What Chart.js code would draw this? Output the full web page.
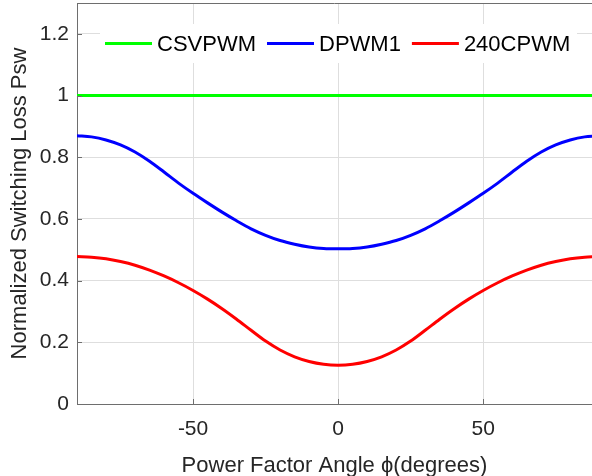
<!DOCTYPE html>
<html>
<head>
<meta charset="utf-8">
<script src="https://cdn.jsdelivr.net/npm/chart.js@4.4.1/dist/chart.umd.min.js"></script>
<style>
  html, body { margin: 0; padding: 0; background: #fff; overflow: hidden; }
  #chart { display: block; }
</style>
</head>
<body>
<canvas id="chart" width="592" height="476"></canvas>
<script>
// power factor angle (degrees)
const angles = [-90, -85, -80, -75, -70, -65, -60, -55, -50, -45, -40, -35, -30, -25, -20, -15, -10, -5,
    0, 5, 10, 15, 20, 25, 30, 35, 40, 45, 50, 55, 60, 65, 70, 75, 80, 85, 90];

const csvpwm = [1, 1, 1, 1, 1, 1, 1, 1, 1, 1, 1, 1, 1, 1, 1, 1, 1, 1,
    1, 1, 1, 1, 1, 1, 1, 1, 1, 1, 1, 1, 1, 1, 1, 1, 1, 1, 1];

const dpwm1 = [0.870, 0.866, 0.856, 0.840, 0.817, 0.787, 0.752, 0.716, 0.683, 0.652, 0.622, 0.594, 0.568,
    0.547, 0.530, 0.518, 0.509, 0.504, 0.503, 0.504, 0.509, 0.518, 0.530, 0.547, 0.568, 0.594, 0.622,
    0.652, 0.683, 0.716, 0.752, 0.787, 0.817, 0.840, 0.856, 0.866, 0.870];

const cpwm240 = [0.478, 0.476, 0.471, 0.462, 0.450, 0.434, 0.415, 0.393, 0.368, 0.340, 0.309, 0.275, 0.239,
    0.204, 0.175, 0.153, 0.138, 0.129, 0.126, 0.129, 0.138, 0.153, 0.175, 0.204, 0.239, 0.275, 0.309,
    0.340, 0.368, 0.393, 0.415, 0.434, 0.450, 0.462, 0.471, 0.476, 0.478];

const seriesLabels = ['CSVPWM', 'DPWM1', '240CPWM'];
const xTicks = [-50, 0, 50];
const yTicks = [0, 0.2, 0.4, 0.6, 0.8, 1, 1.2];

const textColor = '#262626';
const axisColor = '#6e6e6e';
const fontFamily = '"Liberation Sans", Arial, "DejaVu Sans", sans-serif';

function points(values) {
    return angles.map((a, i) => ({x: a, y: values[i]}));
}

// legend drawn inside the plot area, MATLAB style
const insideLegend = {
    id: 'insideLegend',
    afterDatasetsDraw(chart) {
        const ctx = chart.ctx;
        const y = 43.5;
        ctx.save();
        ctx.fillStyle = '#fff';
        ctx.fillRect(100, 24, 477, 39);
        ctx.font = '22px ' + fontFamily;
        ctx.textBaseline = 'middle';
        let x = 105;
        chart.data.datasets.forEach(ds => {
            ctx.strokeStyle = ds.borderColor;
            ctx.lineWidth = 3;
            ctx.beginPath();
            ctx.moveTo(x, y);
            ctx.lineTo(x + 47, y);
            ctx.stroke();
            ctx.fillStyle = '#000';
            ctx.fillText(ds.label, x + 52, y + 1);
            x += 52 + ctx.measureText(ds.label).width + 11;
        });
        ctx.restore();
    },
    afterDraw(chart) {
        const {ctx, chartArea} = chart;
        const xs = chart.scales.x, ys = chart.scales.y;
        ctx.save();
        ctx.strokeStyle = axisColor;
        ctx.lineWidth = 1;
        ctx.beginPath();
        ctx.moveTo(chartArea.left, chartArea.top + 0.5);
        ctx.lineTo(chartArea.right, chartArea.top + 0.5);
        // inward tick marks
        yTicks.forEach(v => {
            const py = Math.round(ys.getPixelForValue(v)) + 0.5;
            ctx.moveTo(chartArea.left, py);
            ctx.lineTo(chartArea.left + 5, py);
        });
        xTicks.forEach(v => {
            const px = Math.round(xs.getPixelForValue(v)) + 0.5;
            ctx.moveTo(px, chartArea.bottom);
            ctx.lineTo(px, chartArea.bottom - 5);
        });
        ctx.stroke();
        ctx.restore();
    }
};

window.onload = function () {
    const ctx = document.getElementById('chart').getContext('2d');

    new Chart(ctx, {
        type: 'line',
        data: {
            datasets: [{
                label: seriesLabels[0], data: points(csvpwm),
                borderColor: '#00ff00', borderWidth: 3, pointRadius: 0
            }, {
                label: seriesLabels[1], data: points(dpwm1),
                borderColor: '#0000ff', borderWidth: 3, pointRadius: 0, cubicInterpolationMode: 'monotone'
            }, {
                label: seriesLabels[2], data: points(cpwm240),
                borderColor: '#ff0000', borderWidth: 3, pointRadius: 0, cubicInterpolationMode: 'monotone'
            }]
        },
        options: {
            responsive: false,
            animation: false,
            devicePixelRatio: 1,
            layout: {padding: {top: 3, right: 0, left: 0, bottom: 0}},
            plugins: {legend: {display: false}, tooltip: {enabled: false}},
            scales: {
                x: {
                    type: 'linear', min: -90, max: 87.5,
                    afterBuildTicks: s => { s.ticks = xTicks.map(v => ({value: v})); },
                    afterFit: s => { s.height = 72; s.paddingLeft = 0; s.paddingRight = 0; },
                    grid: {color: '#dedede', drawTicks: false},
                    border: {display: true, color: axisColor, width: 1},
                    ticks: {
                        color: textColor, padding: 13,
                        font: {family: fontFamily, size: 21},
                        callback: v => String(v)
                    },
                    title: {
                        display: true, text: 'Power Factor Angle ϕ(degrees)', color: textColor,
                        font: {family: fontFamily, size: 22, lineHeight: 0.9},
                        padding: {top: 0, bottom: 0}
                    }
                },
                y: {
                    min: 0, max: 1.3,
                    afterBuildTicks: s => { s.ticks = yTicks.map(v => ({value: v})); },
                    afterFit: s => { s.width = 77; s.paddingTop = 0; s.paddingBottom = 0; },
                    grid: {color: '#dedede', drawTicks: false},
                    border: {display: true, color: axisColor, width: 1},
                    ticks: {
                        color: textColor, padding: 8,
                        font: {family: fontFamily, size: 21},
                        callback: v => String(v)
                    },
                    title: {
                        display: true, text: 'Normalized Switching Loss Psw', color: textColor,
                        font: {family: fontFamily, size: 22},
                        padding: {top: 7, bottom: 0}
                    }
                }
            }
        },
        plugins: [insideLegend]
    });
}
</script>
</body>
</html>
